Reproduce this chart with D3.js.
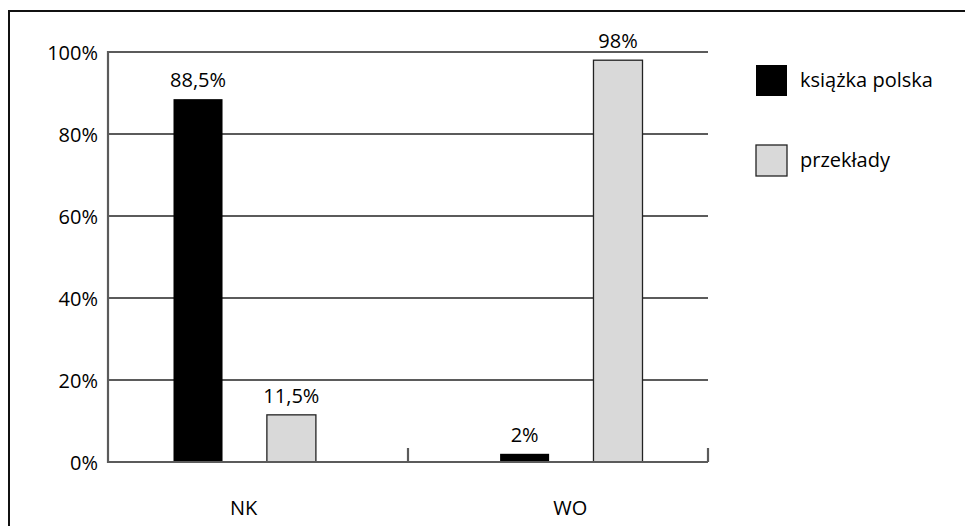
<!DOCTYPE html>
<html>
<head>
<meta charset="utf-8">
<script src="https://cdn.jsdelivr.net/npm/d3@7"></script>
<style>
  html, body { margin: 0; padding: 0; background: #fff; }
  svg { display: block; font-family: "Open Sans", "Noto Sans", sans-serif; }
</style>
</head>
<body>
<svg id="chart" width="965" height="526"></svg>
<script>
// Categories, series and values (percent)
const categories = ["NK", "WO"];
const series = ["książka polska", "przekłady"];
const polishBooks = [88.5, 2];
const translations = [11.5, 98];
const yTicks = [0, 20, 40, 60, 80, 100];

const colors = { "książka polska": "#000000", "przekłady": "#d9d9d9" };
const strokes = { "książka polska": "none", "przekłady": "#222" };

const rows = categories.map((c, i) => ({
  category: c,
  values: [
    { key: series[0], value: polishBooks[i] },
    { key: series[1], value: translations[i] }
  ]
}));

const pl = d3.formatLocale({ decimal: ",", thousands: " ", grouping: [3], currency: ["", " zł"] });
const fmt = v => pl.format(Number.isInteger(v) ? "d" : ".1f")(v) + "%";

const svg = d3.select("#chart");
const fontSize = 20;
const textColor = "#000";

// Outer frame (runs past the right and bottom edges)
svg.append("rect")
  .attr("x", 9).attr("y", 11)
  .attr("width", 1000).attr("height", 600)
  .attr("fill", "none").attr("stroke", "#111").attr("stroke-width", 2);

const plotLeft = 108, plotRight = 708, plotTop = 52, plotBottom = 462;

const y = d3.scaleLinear().domain([0, 100]).range([plotBottom, plotTop]);
const x = d3.scaleBand().domain(categories).range([plotLeft, plotRight]);
// centre of each bar pair
const groupCenter = d3.scalePoint().domain(categories).range([244.7, 571.3]);
const xSub = d3.scaleBand().domain(series).range([-71.2, 71.2]).paddingInner(0.475);

const axisColor = "#5b5b5b";

// Gridlines
svg.append("g").selectAll("line")
  .data(yTicks.filter(t => t > 0))
  .join("line")
  .attr("x1", plotLeft).attr("x2", plotRight)
  .attr("y1", d => y(d)).attr("y2", d => y(d))
  .attr("stroke", axisColor).attr("stroke-width", 2.2);

// Y axis line and labels
svg.append("line")
  .attr("x1", plotLeft).attr("x2", plotLeft)
  .attr("y1", y(100) - 1.1).attr("y2", y(0) + 1.1)
  .attr("stroke", axisColor).attr("stroke-width", 2.2);

svg.append("g").selectAll("text")
  .data(yTicks)
  .join("text")
  .attr("x", 98)
  .attr("y", d => y(d) + 7.5)
  .attr("text-anchor", "end")
  .attr("font-size", fontSize)
  .attr("fill", textColor)
  .text(d => d + "%");

// Bars
const groups = svg.append("g").selectAll("g")
  .data(rows)
  .join("g")
  .attr("transform", d => `translate(${groupCenter(d.category)},0)`);

groups.selectAll("rect")
  .data(d => d.values)
  .join("rect")
  .attr("x", d => xSub(d.key))
  .attr("y", d => y(d.value))
  .attr("width", xSub.bandwidth())
  .attr("height", d => y(0) - y(d.value))
  .attr("fill", d => colors[d.key])
  .attr("stroke", d => strokes[d.key])
  .attr("stroke-width", 1.3);

groups.selectAll("text")
  .data(d => d.values)
  .join("text")
  .attr("x", d => xSub(d.key) + xSub.bandwidth() / 2)
  .attr("y", d => y(d.value) - 12)
  .attr("text-anchor", "middle")
  .attr("font-size", fontSize)
  .attr("fill", textColor)
  .text(d => fmt(d.value));

// X axis baseline and category separators
svg.append("line")
  .attr("x1", plotLeft).attr("x2", plotRight)
  .attr("y1", y(0)).attr("y2", y(0))
  .attr("stroke", axisColor).attr("stroke-width", 2.2);

svg.append("g").selectAll("line")
  .data(categories)
  .join("line")
  .attr("x1", d => x(d) + x.bandwidth()).attr("x2", d => x(d) + x.bandwidth())
  .attr("y1", y(0)).attr("y2", y(0) - 14)
  .attr("stroke", axisColor).attr("stroke-width", 2.2);

svg.append("g").selectAll("text")
  .data(categories)
  .join("text")
  .attr("x", d => groupCenter(d) - 1)
  .attr("y", 515)
  .attr("text-anchor", "middle")
  .attr("font-size", fontSize)
  .attr("fill", textColor)
  .text(d => d);

// Legend
const legend = svg.append("g").selectAll("g")
  .data(series)
  .join("g")
  .attr("transform", (d, i) => `translate(756,${65 + i * 80})`);

legend.append("rect")
  .attr("width", 31).attr("height", 31)
  .attr("fill", d => colors[d])
  .attr("stroke", d => strokes[d])
  .attr("stroke-width", 1.3);

legend.append("text")
  .attr("x", 44).attr("y", 22)
  .attr("font-size", fontSize)
  .attr("fill", textColor)
  .text(d => d);
</script>
</body>
</html>
